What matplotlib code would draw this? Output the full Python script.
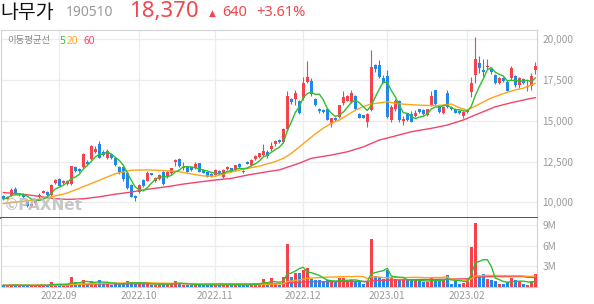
import matplotlib
matplotlib.use('Agg')
import matplotlib.pyplot as plt
import numpy as np
import pandas as pd

plt.rcParams['font.family'] = ['Noto Sans CJK KR', 'DejaVu Sans']

# KRX trading days shown in the chart
holidays = ['2022-08-15', '2022-09-09', '2022-09-12', '2022-10-03', '2022-10-10',
            '2022-12-30', '2023-01-23', '2023-01-24']
dates = pd.bdate_range('2022-08-11', '2023-02-24', freq='C', holidays=holidays)

opens = [10380, 10230, 10440, 10790, 10430, 10500, 10140, 9780, 9940, 10300,
         10600, 10650, 10440, 11160, 11440, 11160, 11100, 11100, 12150, 12050,
         12150, 12500, 12650, 13100, 13550, 13100, 12700, 12960, 12700, 12150,
         12150, 11820, 11060, 10400, 10650, 11400, 11330, 11780, 11300, 11410,
         11880, 11530, 11780, 12490, 12680, 12090, 12140, 12140, 12080, 12390,
         11980, 11880, 11740, 11680, 11920, 11530, 12060, 12080, 11980, 12350,
         11920, 12490, 12290, 12640, 12800, 12900, 13100, 13250, 13550, 13800,
         13700, 14470, 16310, 16310, 16200, 16370, 17400, 17440, 16350, 15720,
         15650, 15700, 14830, 15200, 15250, 16100, 16230, 16170, 16520, 15400,
         15330, 14900, 15650, 18400, 18400, 17640, 17740, 15040, 15700, 16200,
         15000, 15450, 15400, 15280, 15700, 15650, 15350, 15960, 16880, 15900,
         15490, 16720, 15860, 15750, 15600, 15280, 15550, 16780, 17800, 18520,
         18110, 18280, 18150, 17800, 17330, 17600, 17400, 17600, 17730, 17190,
         17540, 17050, 17150, 18100]
highs = [10420, 10380, 10850, 10950, 10550, 10560, 10200, 9950, 10180, 10560,
         10760, 10700, 11100, 11450, 11500, 11380, 11400, 12250, 12250, 12100,
         13000, 12600, 13500, 13450, 13780, 13200, 13300, 13050, 12750, 12250,
         12200, 11850, 11100, 10450, 11100, 11450, 11900, 11830, 11550, 11720,
         11950, 11920, 12120, 12650, 12700, 12490, 12200, 12180, 12450, 12420,
         12020, 11900, 11780, 12020, 11960, 12020, 12250, 12120, 12320, 12400,
         11960, 12530, 12650, 12900, 13050, 13580, 13200, 13700, 13850, 13900,
         14550, 16820, 16400, 16920, 16300, 17700, 18690, 17600, 16400, 15800,
         15700, 15750, 15200, 15250, 16000, 16850, 16600, 16880, 16600, 15450,
         15380, 15450, 19340, 18500, 18700, 17800, 18100, 15950, 16350, 16300,
         15300, 15500, 15600, 15650, 15750, 15700, 15750, 16800, 16900, 15950,
         15900, 16900, 15900, 15800, 15650, 15600, 15750, 17700, 20120, 18970,
         18770, 18770, 18250, 17900, 17700, 17700, 17500, 18350, 17800, 17700,
         17650, 17500, 17950, 18620]
lows = [10150, 10200, 10400, 10500, 10400, 10280, 9700, 9720, 9900, 10250,
        10560, 10400, 10400, 11100, 11000, 11100, 11050, 11050, 11850, 11850,
        12100, 12300, 12600, 13000, 12700, 12850, 12650, 12650, 12250, 11750,
        11330, 10800, 10300, 10100, 10600, 10950, 11300, 11650, 11250, 11380,
        11080, 11500, 11750, 12200, 12150, 11980, 11850, 11950, 12050, 11850,
        11800, 11550, 11550, 11650, 11760, 11500, 12000, 11850, 11950, 12120,
        11820, 12330, 12250, 12600, 12750, 12850, 12750, 13150, 13450, 13650,
        13650, 14400, 16050, 16000, 15400, 16300, 17300, 16500, 15900, 15500,
        15450, 15050, 14600, 15000, 15200, 16000, 16200, 16100, 15650, 15150,
        15150, 14630, 15600, 18000, 17650, 17300, 15200, 14950, 15600, 14950,
        14750, 15000, 14900, 15250, 15500, 15350, 15300, 15900, 16000, 15500,
        15400, 15800, 15650, 15450, 15400, 15150, 15500, 16450, 17300, 17950,
        17720, 18150, 17900, 17250, 17250, 17400, 16800, 17500, 17100, 17000,
        17250, 16800, 16900, 17900]
closes = [10200, 10340, 10750, 10540, 10500, 10300, 9780, 9890, 10140, 10480,
          10700, 10450, 11050, 11400, 11030, 11320, 11300, 12200, 11900, 11900,
          12950, 12350, 13450, 13260, 12750, 12900, 13150, 12700, 12300, 11820,
          11410, 10860, 10350, 10240, 11060, 11000, 11820, 11700, 11500, 11680,
          11120, 11880, 12080, 12590, 12200, 12190, 11880, 11990, 12350, 11880,
          11820, 11570, 11580, 11980, 11780, 11980, 12150, 11880, 12290, 12150,
          11850, 12350, 12600, 12860, 13000, 13150, 12850, 13450, 13750, 13700,
          14500, 16500, 16150, 16720, 15490, 17290, 17700, 16620, 16000, 15580,
          15530, 15080, 15150, 15040, 15940, 16470, 16510, 16680, 15700, 15200,
          15200, 15400, 18320, 18150, 17700, 17340, 15240, 15860, 16200, 15080,
          15120, 15040, 14940, 15490, 15550, 15400, 15700, 16510, 16060, 15550,
          15820, 15860, 15720, 15500, 15480, 15540, 15650, 17290, 18770, 18220,
          17980, 18360, 18000, 17330, 17600, 17460, 16840, 18220, 17170, 17600,
          17330, 17130, 17730, 18370]
# volume, millions of shares
volumes = [0.25, 0.2, 0.35, 0.3, 0.15, 0.2, 0.3, 0.2, 0.25, 0.3,
           0.25, 0.2, 0.75, 0.4, 0.4, 0.25, 0.3, 1.4, 0.7, 0.4,
           1.0, 0.5, 0.9, 0.6, 1.0, 0.45, 0.55, 0.35, 0.45, 0.45,
           0.6, 0.8, 0.7, 0.45, 0.6, 0.4, 0.55, 0.3, 0.35, 0.4,
           0.55, 0.45, 0.5, 0.8, 0.5, 0.35, 0.3, 0.25, 0.4, 0.35,
           0.25, 0.3, 0.25, 0.35, 0.25, 0.4, 0.3, 0.25, 0.35, 0.3,
           0.25, 0.35, 0.45, 0.5, 0.6, 1.15, 0.35, 1.3, 0.4, 0.35,
           1.45, 6.3, 1.5, 2.0, 2.1, 2.4, 2.7, 1.15, 1.05, 1.05,
           0.7, 1.05, 0.7, 0.8, 1.25, 1.25, 0.8, 1.05, 0.8, 0.7,
           0.5, 0.7, 7.0, 1.55, 1.45, 1.15, 2.4, 1.3, 1.15, 1.05,
           0.95, 0.95, 0.95, 1.15, 0.8, 0.7, 0.7, 1.25, 1.15, 0.8,
           1.0, 1.7, 0.5, 0.9, 0.5, 0.6, 1.2, 5.85, 9.3, 1.6,
           1.85, 1.2, 0.95, 0.85, 0.5, 0.5, 0.7, 1.3, 0.95, 0.8,
           0.5, 0.25, 0.8, 1.85]

# 20 and 60 day moving averages (candle index, price)
ma20_idx = [0, 8, 12, 16, 20, 24, 28, 32, 36, 40, 44, 48, 50, 53, 56, 60, 64, 68,
            70, 72, 74, 76, 78, 80, 82, 84, 86, 88, 90, 92, 94, 96, 98, 100, 104,
            108, 110, 112, 114, 116, 118, 120, 122, 124, 126, 128, 130, 132, 133]
ma20_val = [9930, 10150, 10340, 10570, 10960, 11350, 11760, 11970, 11990, 11950,
            11880, 11700, 11620, 11600, 11800, 12030, 12220, 12500, 12700, 13000,
            13400, 13800, 14200, 14550, 14850, 15050, 15350, 15650, 15880, 16030,
            16100, 16170, 16080, 16020, 15960, 15930, 15970, 16030, 15800, 15660,
            15900, 16150, 16400, 16580, 16750, 16900, 17000, 17200, 17300]
ma60_idx = [0, 4, 8, 12, 16, 20, 24, 28, 32, 36, 41, 45, 49, 53, 57, 61, 66, 69,
            74, 77, 82, 86, 90, 94, 98, 102, 107, 111, 115, 119, 123, 127, 132, 133]
ma60_val = [10600, 10520, 10400, 10250, 10180, 10220, 10340, 10500, 10630, 10800,
            10960, 11120, 11250, 11370, 11470, 11670, 11880, 11990, 12400, 12700,
            12900, 13100, 13400, 13820, 14070, 14330, 14540, 14740, 15050, 15460,
            15860, 16110, 16380, 16420]

UP = '#f5424b'
DOWN = '#2188e8'
C5 = '#2fbf2f'
C20 = '#ffa31a'
C60 = '#f2456b'
GRID = '#ececec'
LBL = '#9a9a9a'

o = np.array(opens, float)
h = np.array(highs, float)
l = np.array(lows, float)
c = np.array(closes, float)
v = np.array(volumes, float)
x = np.arange(len(c))
cols = np.where(c >= o, UP, DOWN)

ma5 = pd.Series(c).rolling(5, min_periods=1).mean()
vs = pd.Series(v)
vma5 = vs.rolling(5, min_periods=1).mean()
vma20 = vs.rolling(20, min_periods=1).mean()
vma60 = vs.rolling(60, min_periods=1).mean()

# month starts for the x axis
month_pos = [i for i in range(1, len(dates)) if dates[i].month != dates[i - 1].month]
month_lbl = [dates[i].strftime('%Y.%m') for i in month_pos]

fig = plt.figure(figsize=(5.94, 3.04), dpi=100)
ax = fig.add_axes([1 / 594, 1 - 218 / 304, 536 / 594, 188 / 304])
axv = fig.add_axes([1 / 594, 1 - 287 / 304, 536 / 594, 69 / 304])

xlim = (-0.575, len(c) - 0.575)

# price panel
ax.vlines(x, l, h, color=cols, linewidth=0.8, zorder=3)
body = np.maximum(np.abs(c - o), 45)
ax.bar(x, body, bottom=np.minimum(o, c), width=0.72, color=cols, linewidth=0, zorder=3)
ax.plot(ma60_idx, ma60_val, color=C60, lw=1.0, zorder=4)
ax.plot(ma20_idx, ma20_val, color=C20, lw=1.0, zorder=4)
ax.plot(x, ma5, color=C5, lw=1.0, zorder=4)

ax.set_xlim(*xlim)
ax.set_ylim(9040, 20570)
ax.set_yticks([10000, 12500, 15000, 17500, 20000])
ax.set_yticklabels(['10,000', '12,500', '15,000', '17,500', '20,000'])
ax.set_xticks(month_pos)
ax.set_xticklabels([])
ax.yaxis.tick_right()
ax.tick_params(axis='both', length=0, labelsize=7.3, labelcolor=LBL, pad=4)
ax.grid(True, color=GRID, lw=0.9)
ax.set_axisbelow(True)
for s in ['top', 'left', 'right']:
    ax.spines[s].set_color('#d2d2d2')
ax.spines['bottom'].set_color('#333333')
ax.spines['bottom'].set_linewidth(1.2)

# volume panel
axv.bar(x, v, width=0.72, color=cols, linewidth=0, zorder=3)
axv.plot(x, vma60, color=C60, lw=1.0, zorder=4)
axv.plot(x, vma20, color=C20, lw=1.0, zorder=4)
axv.plot(x, vma5, color=C5, lw=1.0, zorder=4)
axv.set_xlim(*xlim)
axv.set_ylim(0, 10)
axv.set_yticks([3, 6, 9])
axv.set_yticklabels(['3M', '6M', '9M'])
axv.set_xticks(month_pos)
axv.set_xticklabels(month_lbl)
axv.yaxis.tick_right()
axv.tick_params(axis='both', length=0, labelsize=7.3, labelcolor=LBL, pad=4)
axv.tick_params(axis='x', pad=3)
axv.grid(True, color=GRID, lw=0.9)
axv.set_axisbelow(True)
axv.spines['top'].set_visible(False)
for s in ['bottom', 'left', 'right']:
    axv.spines[s].set_color('#d2d2d2')

# header
fig.text(0 / 594, 1 - 12 / 304, '나무가', fontsize=14, color='#111111', va='center')
fig.text(66 / 594, 1 - 13 / 304, '190510', fontsize=10, color='#999999', va='center',
         family=['Noto Sans', 'DejaVu Sans'])
fig.text(129 / 594, 1 - 12 / 304, '18,370', fontsize=16, color='#f2464e', va='center',
         family=['Noto Sans', 'DejaVu Sans'])
fig.text(209 / 594, 1 - 13 / 304, '▲', fontsize=6.5, color='#f2464e', va='center',
         family=['DejaVu Sans'])
fig.text(222 / 594, 1 - 13 / 304, '640', fontsize=10.5, color='#f2464e', va='center',
         family=['Noto Sans', 'DejaVu Sans'])
fig.text(256 / 594, 1 - 13 / 304, '+3.61%', fontsize=10.5, color='#f2464e', va='center',
         family=['Noto Sans', 'DejaVu Sans'])

# legend of the moving averages
fig.text(7 / 594, 1 - 41 / 304, '이동평균선', fontsize=6.8, color='#888888', va='center')
fig.text(59 / 594, 1 - 41 / 304, '5', fontsize=7.3, color=C5, va='center',
         family=['Noto Sans', 'DejaVu Sans'])
fig.text(67 / 594, 1 - 41 / 304, '20', fontsize=7.3, color=C20, va='center',
         family=['Noto Sans', 'DejaVu Sans'])
fig.text(83 / 594, 1 - 41 / 304, '60', fontsize=7.3, color=C60, va='center',
         family=['Noto Sans', 'DejaVu Sans'])

# watermark
fig.text(4 / 594, 1 - 206 / 304, '©PAXNet', fontsize=11, color='#bdbdbd', alpha=0.85,
         va='center', weight='bold', family=['DejaVu Sans'], zorder=10)

fig.savefig('out.png', dpi=100, facecolor='white')
